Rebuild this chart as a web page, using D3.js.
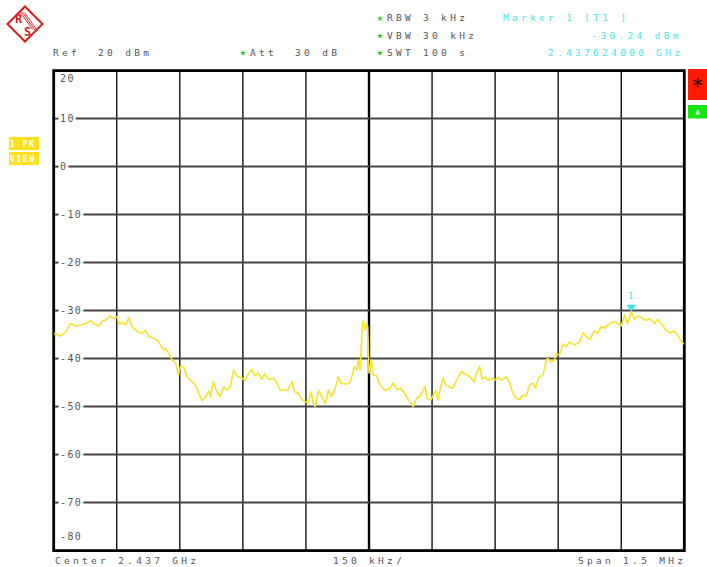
<!DOCTYPE html>
<html>
<head>
<meta charset="utf-8">
<script src="https://cdn.jsdelivr.net/npm/d3@7"></script>
<style>
  body { margin: 0; background: #fff; }
  text { font-family: "DejaVu Sans Mono", monospace; white-space: pre; }
</style>
</head>
<body>
<div id="chart"></div>
<script>
// trace: frequency offset from centre (kHz) and level (dBm)
const freqOffsetKHz = [-750, -733, -721, -710, -698, -686, -674, -662, -654, -642, -634, -627, -615, -607, -599,
  -595, -587, -579, -571, -563, -551, -539, -532, -524, -512, -504, -496, -488, -484, -476, -468, -460, -453,
  -449, -441, -433, -421, -413, -405, -397, -389, -381, -377, -370, -362, -354, -346, -338, -330, -322, -314,
  -302, -294, -286, -278, -271, -263, -255, -248, -239, -227, -219, -211, -199, -192, -183, -177, -168, -160,
  -152, -144, -138, -132, -128, -120, -112, -104, -97, -89, -81, -73, -66, -57, -47, -41, -35, -29, -25, -21,
  -17, -14, -9, -5, -3, 0, 6, 10, 18, 26, 38, 50, 58, 66, 74, 81, 89, 97, 105, 113, 121, 125, 133, 139, 147,
  153, 158, 164, 171, 176, 182, 188, 198, 206, 212, 220, 228, 240, 250, 256, 263, 269, 275, 283, 291, 299,
  307, 315, 327, 335, 342, 350, 358, 366, 374, 382, 390, 396, 404, 414, 422, 425, 434, 441, 445, 453, 461,
  469, 477, 489, 501, 510, 518, 526, 536, 544, 552, 560, 572, 584, 592, 600, 608, 615, 624, 631, 639, 651,
  659, 667, 679, 687, 695, 707, 718, 726, 734, 746, 750];
const levelDbm = [-34.7, -35.3, -34.4, -32.7, -33.2, -33.0, -32.7, -32.1, -32.8, -33.2, -32.1, -32.0, -31.1, -31.6, -31.3,
  -32.8, -32.5, -33.0, -31.4, -33.4, -34.4, -34.7, -34.1, -35.3, -35.8, -36.1, -37.2, -38.2, -37.9, -38.9, -40.3, -40.9, -43.4,
  -41.7, -41.7, -43.8, -44.8, -45.5, -47.2, -48.8, -48.0, -46.7, -47.9, -44.8, -46.9, -47.9, -45.9, -46.6, -45.9, -42.4, -43.6,
  -44.1, -44.5, -43.0, -42.3, -43.6, -43.0, -44.3, -43.2, -44.3, -44.1, -45.2, -46.6, -46.6, -46.4, -44.8, -46.9, -47.2, -48.5,
  -49.0, -49.2, -46.9, -49.4, -50.0, -46.6, -47.9, -49.4, -46.6, -47.9, -46.4, -43.8, -45.2, -45.3, -45.2, -43.8, -41.7, -42.4, -40.3, -42.4,
  -34.7, -32.0, -34.1, -32.7, -33.4, -43.0, -40.3, -43.4, -43.6, -45.5, -46.6, -46.2, -45.0, -46.4, -46.2, -46.7, -47.9, -49.0, -50.0, -48.3, -47.9, -47.2, -45.9, -48.3, -48.6,
  -47.6, -46.6, -48.6, -45.7, -44.1, -45.5, -45.7, -46.2, -45.0, -43.9, -42.7, -43.2, -43.8, -44.8, -43.0, -41.6, -44.3, -43.8, -44.5, -44.1, -44.5,
  -43.9, -44.5, -43.8, -45.2, -47.2, -48.3, -48.5, -47.6, -47.8, -45.5, -45.1, -46.2, -43.9, -43.4, -40.3, -40.0, -40.7, -40.3, -38.9, -39.3, -37.0,
  -37.5, -36.5, -37.2, -36.5, -34.6, -35.5, -36.0, -34.1, -34.7, -33.4, -33.7, -32.7, -32.3, -32.7, -33.2, -30.9, -32.7, -30.24, -31.8, -31.1, -31.6,
  -32.1, -31.6, -32.7, -31.8, -32.7, -34.2, -34.7, -34.2, -35.1, -36.7, -37.0];

const yLabels = [20, 10, 0, -10, -20, -30, -40, -50, -60, -70, -80];
const markerFreqKHz = 624, markerLevel = -30.24;

const W = 707, H = 567;
const plot = { left: 53.7, right: 684.3, top: 70.6, bottom: 550.6 };
const gray = "#555", cyan = "#3fe6f0", yellow = "#f7e22c";

const svg = d3.select("#chart").append("svg")
    .attr("width", W).attr("height", H)
    .style("display", "block");
svg.append("rect").attr("width", W).attr("height", H).attr("fill", "#fff");

const x = d3.scaleLinear().domain([-750, 750]).range([plot.left, plot.right]);
const y = d3.scaleLinear().domain([-80, 20]).range([plot.bottom, plot.top]);

// vertical grid (10 divisions)
const xDivs = d3.range(-600, 601, 150);
svg.append("g").selectAll("line").data(xDivs).join("line")
    .attr("x1", d => x(d)).attr("x2", d => x(d))
    .attr("y1", plot.top).attr("y2", plot.bottom)
    .attr("stroke", "#000")
    .attr("stroke-width", d => d === 0 ? 2.4 : 1.3);

// horizontal grid with labels cut into the line
const gy = svg.append("g");
yLabels.forEach(v => {
  const yy = y(v);
  let ty = yy + 3.5;
  if (v === 20) ty = yy + 11.5;
  if (v === -80) ty = yy - 10.5;
  const t = gy.append("text")
      .attr("x", 60).attr("y", ty)
      .attr("font-size", 10).attr("letter-spacing", 1.4)
      .attr("fill", gray).text(v);
  if (v === 20 || v === -80) return;
  const w = t.node().getComputedTextLength();
  gy.append("line").attr("x1", plot.left).attr("x2", 58.5)
      .attr("y1", yy).attr("y2", yy).attr("stroke", "#444").attr("stroke-width", 2);
  gy.append("line").attr("x1", 60 + w + 1).attr("x2", plot.right)
      .attr("y1", yy).attr("y2", yy).attr("stroke", "#444").attr("stroke-width", 2);
});

// frame
svg.append("rect")
    .attr("x", plot.left).attr("y", plot.top)
    .attr("width", plot.right - plot.left).attr("height", plot.bottom - plot.top)
    .attr("fill", "none").attr("stroke", "#000").attr("stroke-width", 2.8);

// trace
svg.append("clipPath").attr("id", "clip").append("rect")
    .attr("x", plot.left).attr("y", plot.top)
    .attr("width", plot.right - plot.left).attr("height", plot.bottom - plot.top);
const line = d3.line().x((d, i) => x(freqOffsetKHz[i])).y(d => y(d));
svg.append("path")
    .datum(levelDbm)
    .attr("clip-path", "url(#clip)")
    .attr("d", line)
    .attr("fill", "none").attr("stroke", yellow).attr("stroke-width", 1.6)
    .attr("stroke-linejoin", "round");

// marker
const mx = x(markerFreqKHz), my = y(markerLevel);
svg.append("path")
    .attr("d", `M${mx - 5},${my - 7}L${mx + 5},${my - 7}L${mx},${my}Z`)
    .attr("fill", cyan);
svg.append("text").attr("x", mx - 3).attr("y", my - 13)
    .attr("font-size", 9).attr("fill", cyan).text("1");

// header text
function label(txt, x0, y0, color) {
  svg.append("text").attr("x", x0).attr("y", y0)
      .attr("font-size", 9.5).attr("letter-spacing", 3.3)
      .attr("fill", color || gray).text(txt);
}
function star(x0, y0) {
  svg.append("path").attr("d", d3.symbol(d3.symbolStar, 10)())
      .attr("transform", `translate(${x0},${y0})`).attr("fill", "#22cc22");
}
label("Ref  20 dBm", 53, 56);
star(243, 53); label("Att  30 dB", 250, 56);
star(380, 18.5); label("RBW 3 kHz", 387, 21);
star(380, 36); label("VBW 30 kHz", 387, 38.5);
star(380, 53); label("SWT 100 s", 387, 56);
label("Marker 1 [T1 ]", 503, 21, cyan);
label("-30.24 dBm", 591.5, 38.5, cyan);
label("2.437624000 GHz", 548, 56, cyan);

label("Center 2.437 GHz", 55, 564);
label("150 kHz/", 333, 564);
label("Span 1.5 MHz", 578, 564);

// left trace-status boxes
[["1 PK", 137], ["VIEW", 152]].forEach(([t, yy]) => {
  svg.append("rect").attr("x", 9).attr("y", yy).attr("width", 30).attr("height", 13).attr("fill", "#ffe01e");
  svg.append("text").attr("x", 10).attr("y", yy + 9.5)
      .attr("font-size", 8).attr("font-weight", "bold").attr("letter-spacing", 1.6)
      .attr("fill", "#fff").text(t);
});

// right side boxes
svg.append("rect").attr("x", 688).attr("y", 69).attr("width", 19).attr("height", 31).attr("fill", "#ff1a00");
svg.append("text").attr("x", 697.5).attr("y", 92).attr("text-anchor", "middle")
    .attr("font-size", 20).attr("fill", "#000").text("*");
svg.append("rect").attr("x", 688).attr("y", 105).attr("width", 19).attr("height", 13.5).attr("fill", "#14e614");
svg.append("text").attr("x", 697.5).attr("y", 115).attr("text-anchor", "middle")
    .attr("font-size", 7).attr("font-weight", "bold").attr("fill", "#fff").text("A");

// R&S logo
const logo = svg.append("g").attr("transform", "translate(25,24)");
const red = "#d21c1c";
logo.append("path").attr("d", "M0,-17.5L17.5,0L0,17.5L-17.5,0Z")
    .attr("fill", "none").attr("stroke", red).attr("stroke-width", 2);
[-2.5, 0, 2.5].forEach(o => {
  logo.append("line")
      .attr("x1", -3 + o).attr("y1", -12 + o * 0.3)
      .attr("x2", 10 + o).attr("y2", 6 + o * 0.3)
      .attr("stroke", red).attr("stroke-width", 0.9);
});
logo.append("text").attr("x", -10).attr("y", -1).attr("font-size", 12).attr("font-weight", "bold")
    .attr("font-family", "Liberation Sans, sans-serif").attr("fill", red).text("R");
logo.append("text").attr("x", -1).attr("y", 12).attr("font-size", 12).attr("font-weight", "bold")
    .attr("font-family", "Liberation Sans, sans-serif").attr("fill", red).text("S");
</script>
</body>
</html>
